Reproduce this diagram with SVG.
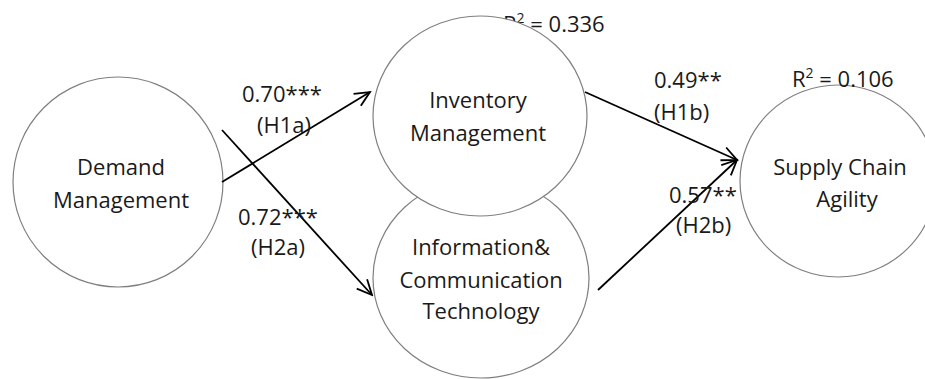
<svg xmlns="http://www.w3.org/2000/svg" width="925" height="379" viewBox="0 0 925 379">
<style>
.node{fill:#fff;stroke:#7f7f7f;stroke-width:1.2}
.t{font-family:"Open Sans","Liberation Sans",sans-serif;font-size:22px;fill:#1a1a1a;text-anchor:middle}
.lbl{font-family:"Open Sans","Liberation Sans",sans-serif;font-size:22px;fill:#1a1a1a}
.edge{stroke:#000;stroke-width:1.8;fill:none;marker-end:url(#arr)}
</style>
<defs>
<marker id="arr" viewBox="0 0 20 20" refX="18" refY="10" markerWidth="20" markerHeight="20" markerUnits="userSpaceOnUse" orient="auto">
<path d="M3,3 L18,10 L3,17" fill="none" stroke="#000" stroke-width="1.8"/>
</marker>
</defs>
<text class="lbl" x="503" y="32">R<tspan font-size="14" dy="-9">2</tspan><tspan dy="9"> = 0.336</tspan></text>
<g id="demand">
<ellipse class="node" cx="118" cy="182" rx="105" ry="105"/>
<text class="t" x="121" y="175">Demand</text>
<text class="t" x="121" y="208">Management</text>
</g>
<g id="ict">
<ellipse class="node" cx="481" cy="278" rx="108" ry="100"/>
<text class="t" x="481" y="255">Information&amp;</text>
<text class="t" x="481" y="288">Communication</text>
<text class="t" x="481" y="319">Technology</text>
</g>
<g id="inventory">
<ellipse class="node" cx="480" cy="116" rx="107" ry="100"/>
<text class="t" x="478" y="108">Inventory</text>
<text class="t" x="478" y="141">Management</text>
</g>
<g id="sca">
<ellipse class="node" cx="838" cy="181" rx="98" ry="96"/>
<text class="t" x="840" y="175">Supply Chain</text>
<text class="t" x="847" y="207">Agility</text>
</g>
<g id="connectors">
<line class="edge" x1="222" y1="182" x2="370" y2="92"/>
<line class="edge" x1="222" y1="130" x2="372" y2="295"/>
<line class="edge" x1="585" y1="92" x2="737" y2="160"/>
<line class="edge" x1="598" y1="290" x2="737" y2="160"/>
</g>
<g id="labels">
<text class="lbl" x="242" y="102">0.70***</text>
<text class="lbl" x="257" y="133">(H1a)</text>
<text class="lbl" x="238" y="225">0.72***</text>
<text class="lbl" x="251" y="255">(H2a)</text>
<text class="lbl" x="654" y="88">0.49**</text>
<text class="lbl" x="654" y="120">(H1b)</text>
<text class="lbl" x="669" y="203">0.57**</text>
<text class="lbl" x="676" y="233">(H2b)</text>
<text class="lbl" x="792" y="87">R<tspan font-size="14" dy="-9">2</tspan><tspan dy="9"> = 0.106</tspan></text>
</g>
</svg>
